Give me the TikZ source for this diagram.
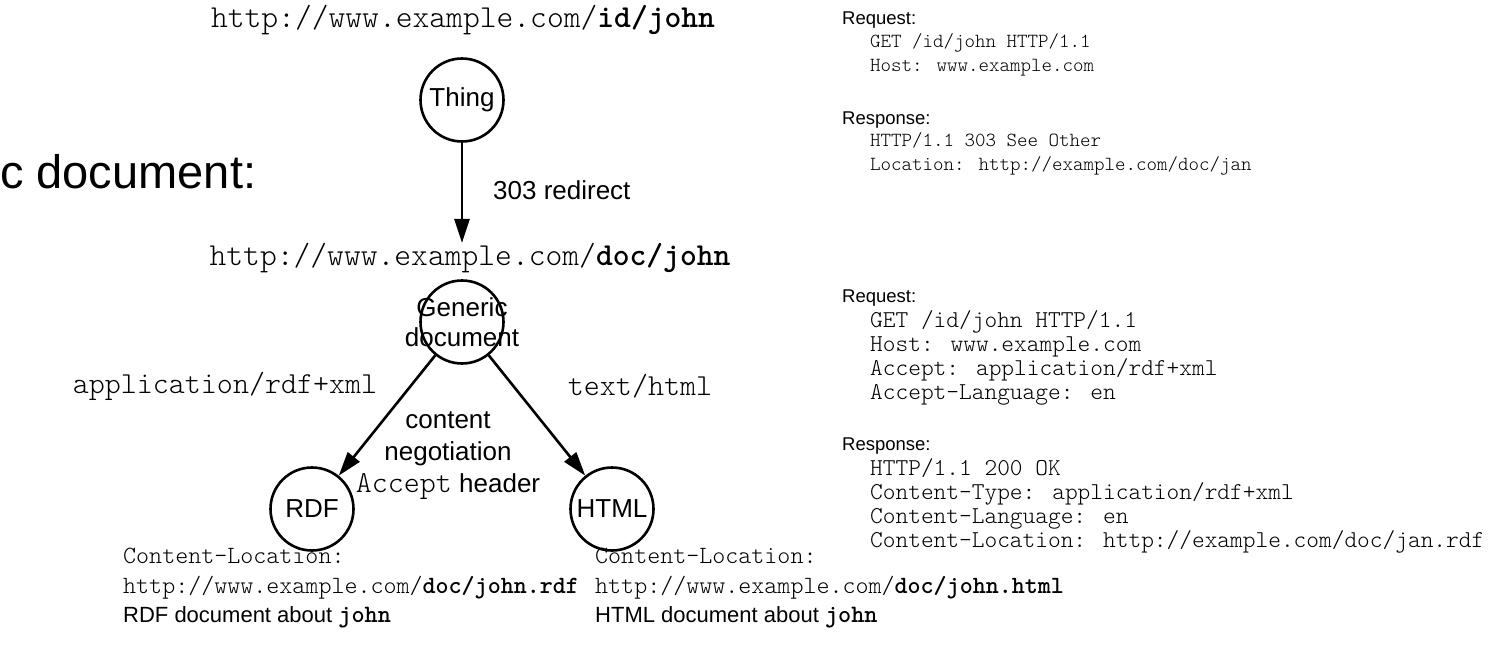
\documentclass[tikz,border=0pt]{standalone}
\usepackage{fontspec}
\setmainfont{Liberation Sans}
\usetikzlibrary{arrows.meta}
\newcommand\fsz[2]{\fontsize{#1pt}{#2pt}\selectfont}
% thin typewriter face for code and URLs
\newcommand\code{\ttfamily\fontseries{l}\selectfont}
\newcommand\codebf[1]{{\fontseries{b}\selectfont #1}}
\tikzset{
  entity/.style={circle, draw, line width=2.6pt, minimum size=83pt, inner sep=0pt, font=\fsz{26}{30}},
  bigurl/.style={inner sep=0pt, font=\fsz{32}{36}\code},
  midmono/.style={inner sep=0pt, font=\fsz{30.5}{34}\code},
  lbl/.style={inner sep=0pt, font=\fsz{26}{32}, align=center},
  foot/.style={inner sep=0pt, anchor=north west, align=left, font=\fsz{22}{29.5}},
  hdr/.style={inner sep=0pt, anchor=west, font=\fsz{18.5}{24}},
  httpone/.style={inner sep=0pt, anchor=north west, align=left, font=\fsz{20}{24}\code},
  httptwo/.style={inner sep=0pt, anchor=north west, align=left, font=\fsz{24.2}{24}\code},
  arr/.style={line width=2.6pt, -{Triangle[length=24pt,width=15pt]}},
}
\begin{document}
\begin{tikzpicture}[x=1pt, y=-1pt]
  \useasboundingbox (0,0) rectangle (1493,655);

  % section title, running in from the left edge
  \node[inner sep=0pt, anchor=west, font=\fsz{47}{52}] (title) at (0,172) {c document:};

  % the thing and its redirect
  \node[bigurl] (idurl) at (463,20) {http://www.example.com/\codebf{id/john}};
  \node[entity] (thing) at (462,100) {Thing};
  \node[bigurl] (docurl) at (470,258) {http://www.example.com/\codebf{doc/john}};
  \draw[arr] (thing.south) -- (thing.south |- docurl.north);
  \node[lbl, anchor=west] (redir) at (493,190) {303 redirect};

  % generic document and its two representations
  \node[entity] (gen) at (462,322) {};
  \node[lbl, font=\fsz{26}{30}] (genlbl) at (gen) {Generic\\document};
  \node[entity] (rdf) at (312,509) {RDF};
  \node[entity] (html) at (612,509) {HTML};
  \draw[arr] (gen) -- (rdf);
  \draw[arr] (gen) -- (html);

  \node[midmono] (rdftype) at (225,386) {application/rdf+xml};
  \node[midmono] (htmltype) at (640,386) {text/html};
  \node[lbl] (conneg) at (448,456) {content\\negotiation\\{\code\fsz{30.5}{32}Accept} header};

  % what each representation is
  \node[foot] (rdffoot) at (123,548) {{\code\fsz{24.8}{29.5}Content-Location:}\\
    {\code\fsz{24.8}{29.5}http://www.example.com/\codebf{doc/john.rdf}}\\
    RDF document about {\ttfamily\fsz{25}{29.5}\fontseries{b}\selectfont john}};
  \node[foot] (htmlfoot) at (595,548) {{\code\fsz{24.8}{29.5}Content-Location:}\\
    {\code\fsz{24.8}{29.5}http://www.example.com/\codebf{doc/john.html}}\\
    HTML document about {\ttfamily\fsz{25}{29.5}\fontseries{b}\selectfont john}};

  % HTTP exchange for the thing
  \node[hdr] (req1) at (842,20) {Request:};
  \node[httpone] (req1body) at (870,33) {GET /id/john HTTP/1.1\\Host: www.example.com};
  \node[hdr] (resp1) at (842,120) {Response:};
  \node[httpone] (resp1body) at (870,132) {HTTP/1.1 303 See Other\\Location: http://example.com/doc/jan};

  % HTTP exchange for the document
  \node[hdr] (req2) at (842,298) {Request:};
  \node[httptwo] (req2body) at (870,310) {GET /id/john HTTP/1.1\\Host: www.example.com\\Accept: application/rdf+xml\\Accept-Language: en};
  \node[hdr] (resp2) at (842,446) {Response:};
  \node[httptwo] (resp2body) at (870,458) {HTTP/1.1 200 OK\\Content-Type: application/rdf+xml\\Content-Language: en\\Content-Location: http://example.com/doc/jan.rdf};
\end{tikzpicture}
\end{document}
